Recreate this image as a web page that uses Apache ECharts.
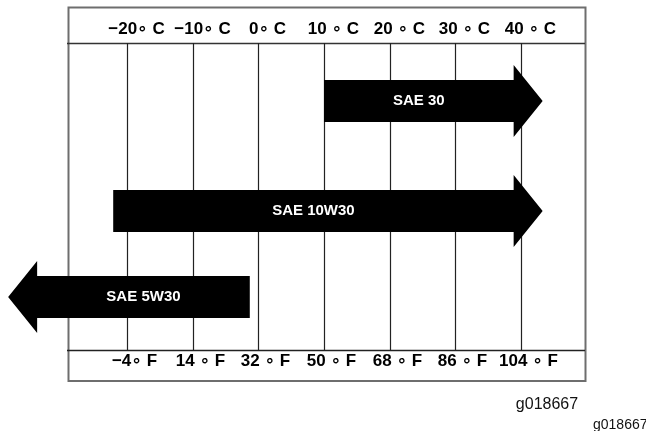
<!DOCTYPE html>
<html><head><meta charset="utf-8">
<script src="https://cdn.jsdelivr.net/npm/echarts@6/dist/echarts.min.js"></script>
<style>html,body{margin:0;padding:0;background:#fff}#chart{width:646px;height:431px}</style>
</head><body><div id="chart"></div>
<script>
// ---- data ----
const categories = ['SAE 30', 'SAE 10W30', 'SAE 5W30'];
const rangeFromC = [10, -22.1, -1.3];   // flat end of each arrow (°C)
const rangeToC = [43.3, 43.3, -38.1];   // arrow tip (°C)
const celsiusTicks = [-20, -10, 0, 10, 20, 30, 40];
const celsiusLabels = ['−20∘ C', '−10∘ C', '0∘ C', '10 ∘ C', '20 ∘ C', '30 ∘ C', '40 ∘ C'];
const fahrenheitLabels = ['−4∘ F', '14 ∘ F', '32 ∘ F', '50 ∘ F', '68 ∘ F', '86 ∘ F', '104 ∘ F'];
const figureCode = 'g018667';

// ---- layout ----
const FONT = "'Liberation Sans', Arial, 'DejaVu Sans', sans-serif";
const X_MIN = -39.34, X_MAX = 59.04;
const rowCenterY = [101, 211, 297];
const BODY_HALF = 21, HEAD_HALF = 36, HEAD_LEN = 29;
const LINE_TOP = 43, LINE_BOTTOM = 350, C_LABEL_Y = 29, F_LABEL_Y = 361;

const chart = echarts.init(document.getElementById('chart'), null, {renderer: 'canvas'});

chart.setOption({
  animation: false,
  backgroundColor: '#fff',
  grid: {left: 0, right: 0, top: 0, bottom: 0},
  xAxis: {type: 'value', min: X_MIN, max: X_MAX, show: false},
  yAxis: {type: 'value', min: 0, max: 431, inverse: true, show: false},
  graphic: [
    {type: 'rect', shape: {x: 68.5, y: 7.5, width: 517, height: 373.5},
     style: {fill: 'none', stroke: '#6e6e6e', lineWidth: 2}, z: 0},
    {type: 'line', shape: {x1: 67, y1: 43.5, x2: 585, y2: 43.5},
     style: {stroke: '#333', lineWidth: 1.5}, z: 0},
    {type: 'line', shape: {x1: 67, y1: 350.5, x2: 585, y2: 350.5},
     style: {stroke: '#222', lineWidth: 1.5}, z: 0},
    {type: 'text', x: 547, y: 405, style: {text: figureCode, fill: '#111', font: '16px ' + FONT, align: 'center', verticalAlign: 'middle'}, z: 5},
    {type: 'text', x: 593, y: 425, style: {text: figureCode, fill: '#111', font: '14px ' + FONT, align: 'left', verticalAlign: 'middle'}, z: 5}
  ],
  series: [
    {
      type: 'custom',
      z: 1,
      data: celsiusTicks.map((v, i) => [v, i]),
      renderItem: function (params, api) {
        const i = api.value(1);
        const x = Math.round(api.coord([api.value(0), 0])[0]) + 0.5;
        const yTop = api.coord([0, LINE_TOP])[1];
        const yBot = api.coord([0, LINE_BOTTOM])[1];
        return {
          type: 'group',
          children: [
            {type: 'line', shape: {x1: x, y1: yTop, x2: x, y2: yBot},
             style: {stroke: '#222', lineWidth: 1.2}},
            {type: 'text', x: x + 9, y: api.coord([0, C_LABEL_Y])[1],
             style: {text: celsiusLabels[i], fill: '#000', font: 'bold 17px ' + FONT, align: 'center', verticalAlign: 'middle'}},
            {type: 'text', x: x + 7, y: api.coord([0, F_LABEL_Y])[1],
             style: {text: fahrenheitLabels[i], fill: '#000', font: 'bold 17px ' + FONT, align: 'center', verticalAlign: 'middle'}}
          ]
        };
      }
    },
    {
      type: 'custom',
      z: 3,
      data: categories.map((c, i) => [rangeFromC[i], rangeToC[i], i]),
      renderItem: function (params, api) {
        const i = api.value(2);
        const a = api.coord([api.value(0), 0])[0];
        const t = api.coord([api.value(1), 0])[0];
        const dir = t > a ? 1 : -1;
        const base = t - dir * HEAD_LEN;
        const cy = api.coord([0, rowCenterY[i]])[1];
        const pts = [
          [a, cy - BODY_HALF], [base, cy - BODY_HALF], [base, cy - HEAD_HALF],
          [t, cy], [base, cy + HEAD_HALF], [base, cy + BODY_HALF], [a, cy + BODY_HALF]
        ];
        return {
          type: 'group',
          children: [
            {type: 'polygon', shape: {points: pts}, style: {fill: '#000'}},
            {type: 'text', x: (a + base) / 2, y: cy,
             style: {text: categories[i], fill: '#fff', font: 'bold 15px ' + FONT, align: 'center', verticalAlign: 'middle'}}
          ]
        };
      }
    }
  ]
});
</script>
</body></html>
